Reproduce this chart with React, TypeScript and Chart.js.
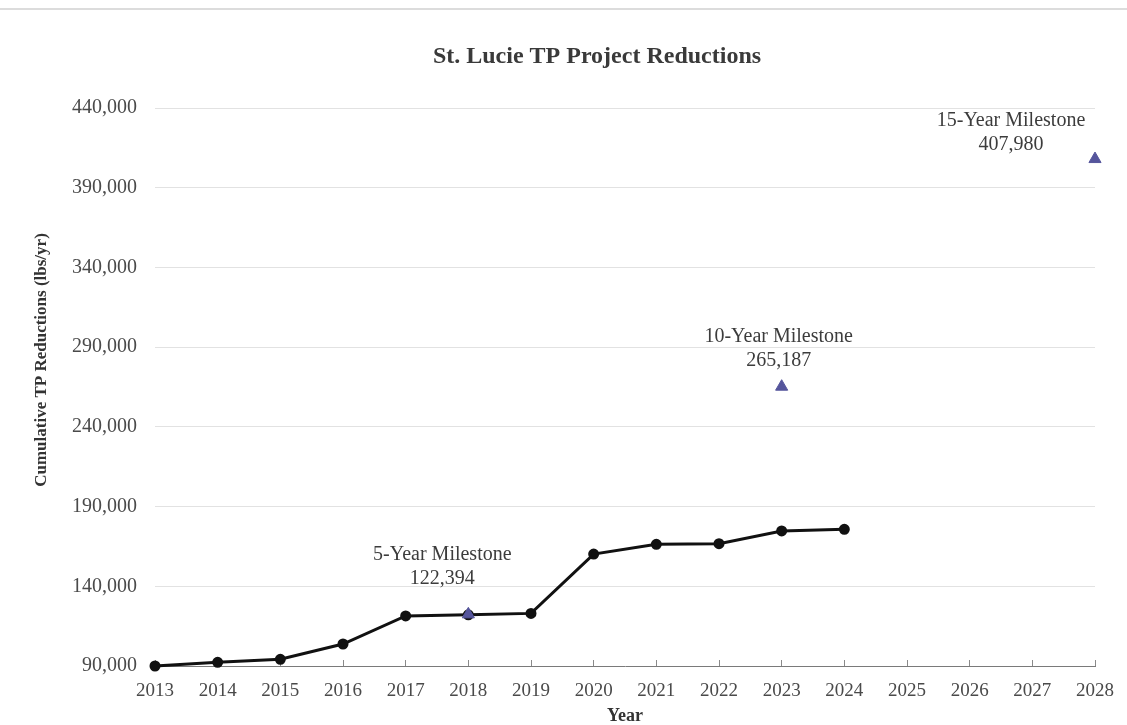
import React, { useEffect, useRef } from "react";
import { Chart, registerables } from "chart.js";

Chart.register(...registerables);

// ---------- data ----------
const chartTitle = "St. Lucie TP Project Reductions";
const yAxisTitle = "Cumulative TP Reductions (lbs/yr)";
const xAxisTitle = "Year";

const years = [
  "2013", "2014", "2015", "2016", "2017", "2018", "2019", "2020",
  "2021", "2022", "2023", "2024", "2025", "2026", "2027", "2028",
];

const reductions = [
  90000, 92300, 94200, 103800, 121400, 122100, 123000, 160200,
  166300, 166700, 174700, 175700,
];

const milestoneYears = ["2018", "2023", "2028"];
const milestoneNames = ["5-Year Milestone", "10-Year Milestone", "15-Year Milestone"];
const milestoneValues = [122394, 265187, 407980];

const yMin = 90000;
const yMax = 440000;
const yStep = 50000;

// ---------- style ----------
const FONT = "'Liberation Serif', 'Times New Roman', serif";
const TEXT = "#3c3c3c";
// label placement relative to marker: [dx, dy of second line]
const labelOffsets = [
  [-26, -36],
  [-3, -26],
  [-84, -14],
];

const fmt = (v: number) => Number(v).toLocaleString("en-US");

const decorPlugin = {
  id: "decor",
  beforeDraw(chart: any) {
    const ctx = chart.ctx;
    ctx.save();
    ctx.strokeStyle = "#dcdcdc";
    ctx.lineWidth = 2;
    ctx.beginPath();
    ctx.moveTo(0, 9);
    ctx.lineTo(chart.width, 9);
    ctx.stroke();
    ctx.restore();
  },
  afterDatasetsDraw(chart: any) {
    const ctx = chart.ctx;
    const area = chart.chartArea;
    ctx.save();
    // main title
    ctx.fillStyle = "#3a3a3a";
    ctx.textAlign = "center";
    ctx.textBaseline = "middle";
    ctx.font = `bold 24px ${FONT}`;
    ctx.fillText(chartTitle, (area.left + area.right) / 2 - 28, area.top - 51);

    // y axis title
    ctx.save();
    ctx.translate(42, (area.top + area.bottom) / 2 - 27);
    ctx.rotate(-Math.PI / 2);
    ctx.font = `bold 17px ${FONT}`;
    ctx.fillStyle = "#333";
    ctx.fillText(yAxisTitle, 0, 0);
    ctx.restore();

    // milestone labels
    const meta = chart.getDatasetMeta(1);
    ctx.font = `20px ${FONT}`;
    ctx.fillStyle = TEXT;
    milestoneYears.forEach((yr, k) => {
      const idx = years.indexOf(yr);
      const pt = meta.data[idx];
      if (!pt) return;
      const [dx, dy] = labelOffsets[k];
      const x = pt.x + dx;
      const y2 = pt.y + dy;
      ctx.fillText(milestoneNames[k], x, y2 - 24);
      ctx.fillText(fmt(milestoneValues[k]), x, y2);
    });
    ctx.restore();
  },
};

export default function App() {
  const canvasRef = useRef<HTMLCanvasElement | null>(null);

  useEffect(() => {
    if (!canvasRef.current) return;
    const milestoneData = years.map((y) => {
      const i = milestoneYears.indexOf(y);
      return i >= 0 ? milestoneValues[i] : null;
    });

    const chart = new Chart(canvasRef.current, {
      type: "line",
      data: {
        labels: years,
        datasets: [
          {
            label: "Cumulative TP Reductions",
            data: reductions,
            borderColor: "#111111",
            backgroundColor: "#111111",
            borderWidth: 3,
            pointRadius: 4,
            pointBackgroundColor: "#111111",
            pointBorderColor: "#111111",
            tension: 0,
            clip: false,
            order: 1,
          },
          {
            label: "Milestones",
            data: milestoneData,
            showLine: false,
            pointStyle: "triangle",
            pointRadius: 7,
            pointBackgroundColor: "#55559c",
            pointBorderColor: "#55559c",
            pointBorderWidth: 1,
            clip: false,
            order: 0,
          },
        ],
      },
      options: {
        responsive: false,
        animation: false,
        devicePixelRatio: 1,
        layout: { padding: { top: 108, right: 32, left: 0, bottom: 0 } },
        plugins: {
          legend: { display: false },
          tooltip: { enabled: false },
          title: { display: false },
        },
        scales: {
          x: {
            type: "category",
            offset: false,
            grid: {
              display: true,
              drawOnChartArea: false,
              drawTicks: true,
              tickLength: -6,
              color: "#8a8a8a",
              lineWidth: 1,
            },
            border: { display: true, color: "#7a7a7a", width: 1 },
            ticks: {
              autoSkip: false,
              maxRotation: 0,
              padding: 20,
              color: "#4a4a4a",
              font: { family: FONT, size: 19 },
            },
            title: {
              display: true,
              text: xAxisTitle,
              color: "#333",
              font: { family: FONT, size: 18, weight: "bold", lineHeight: 1 },
              padding: { top: 0, bottom: 0 },
            },
            afterFit(scale: any) {
              scale.height = 59;
              scale.paddingLeft = 0;
              scale.paddingRight = 0;
            },
          },
          y: {
            min: yMin,
            max: yMax,
            grid: {
              drawTicks: false,
              lineWidth: 1,
              color: (ctx: any) => (ctx.tick && ctx.tick.value === yMin ? "rgba(0,0,0,0)" : "#e2e2e2"),
            },
            border: { display: false },
            ticks: {
              stepSize: yStep,
              padding: 18,
              color: "#4a4a4a",
              font: { family: FONT, size: 20 },
              callback: (v: any) => fmt(v),
            },
            afterFit(scale: any) {
              scale.width = 155;
            },
          },
        },
      },
      plugins: [decorPlugin],
    });

    return () => chart.destroy();
  }, []);

  return (
    <canvas
      ref={canvasRef}
      width={1127}
      height={725}
      style={{ position: "fixed", left: 0, top: 0, width: 1127, height: 725 }}
    />
  );
}
